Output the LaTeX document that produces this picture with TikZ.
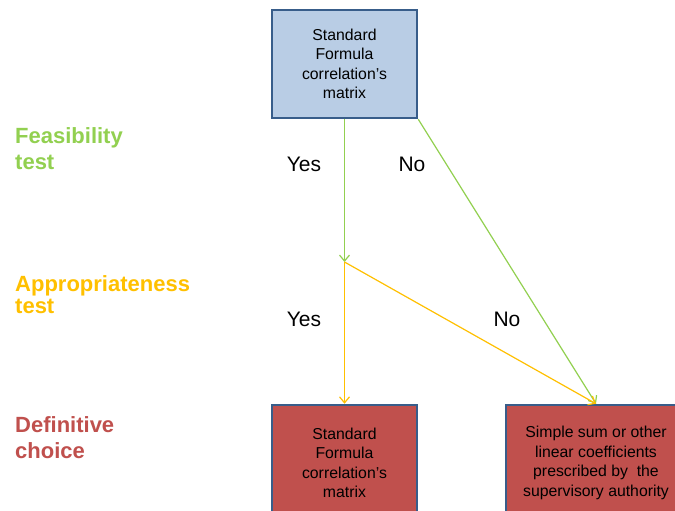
\documentclass[tikz,border=0pt]{standalone}
\usepackage{fontspec}
\setmainfont{Liberation Sans}
\usetikzlibrary{arrows.meta}
\usetikzlibrary{positioning}
\definecolor{boxblue}{HTML}{B9CDE5}
\definecolor{boxred}{HTML}{C0504D}
\definecolor{edgeblue}{HTML}{385D8A}
\definecolor{feasgreen}{HTML}{92D050}
\definecolor{apporange}{HTML}{FFC000}
\tikzset{
    choice/.style={
           rectangle,
           draw=edgeblue, line width=2.5pt,
           minimum width=145pt,
           minimum height=108pt,
           align=center,
           font=\fontsize{15.8}{19.5}\selectfont},
    testlabel/.style={
           anchor=north west,
           inner sep=0pt,
           align=left,
           font=\fontsize{22}{26}\selectfont\bfseries},
    answer/.style={font=\fontsize{21}{24}\selectfont},
    flow/.style={line width=1.2pt, -{Straight Barb[length=6pt,width=10pt]}},
}

\begin{document}
\begin{tikzpicture}[x=1pt,y=-1pt]

 \clip (0,0) rectangle (675,511);
 \fill[white] (0,0) rectangle (675,511);

 \node[choice, fill=boxblue] (MATRIX) at (344.5,64)
 {Standard\\Formula\\correlation’s\\matrix};

 \node[choice, fill=boxred, minimum height=116pt] (FORMULA) at (344.5,463)
 {Standard\\Formula\\correlation’s\\matrix};

 \node[choice, fill=boxred, minimum width=180pt, minimum height=116pt] (SIMPLE) at (596,463)
 {Simple sum or other\\linear coefficients\\prescribed by \ the\\supervisory authority};

 \coordinate (JUNCTION) at (344.5,262);

 \node[testlabel, text=feasgreen] (FEASIBILITY) at (15,127)
 {Feasibility\\test};
 \node[testlabel, text=apporange, font=\fontsize{22}{22}\selectfont\bfseries] (APPROPRIATENESS) at (15,275)
 {Appropriateness\\test};
 \node[testlabel, text=boxred] (DEFINITIVE) at (15,416)
 {Definitive\\choice};

 \node[answer] (YESONE) at (304,164) {Yes};
 \node[answer] (NOONE) at (412,164) {No};
 \node[answer] (YESTWO) at (304,319) {Yes};
 \node[answer] (NOTWO) at (507,319) {No};

 \draw[flow, feasgreen] (MATRIX.south) -- (JUNCTION);
 \draw[flow, feasgreen] (MATRIX.south east) -- (SIMPLE.north);
 \draw[flow, apporange] (JUNCTION) -- (FORMULA.north);
 \draw[flow, apporange] (JUNCTION) -- (SIMPLE.north);

\end{tikzpicture}
\end{document}
